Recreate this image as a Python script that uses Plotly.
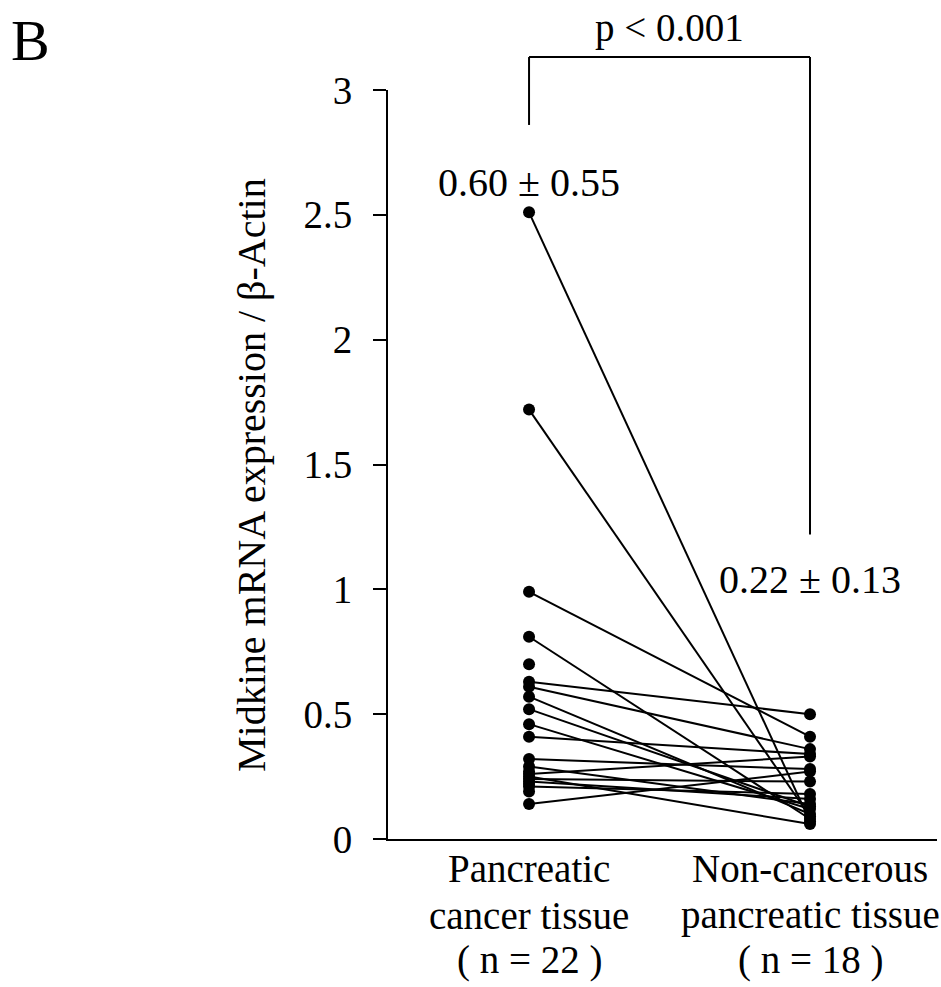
import plotly.graph_objects as go

category_lines = [["Pancreatic", "cancer tissue", "( n = 22 )"],
                  ["Non-cancerous", "pancreatic tissue", "( n = 18 )"]]

# paired samples: cancer tissue value -> non-cancerous value
paired_cancer = [2.51, 1.72, 0.99, 0.81, 0.63, 0.61, 0.57, 0.52, 0.46,
                 0.41, 0.32, 0.29, 0.26, 0.25, 0.24, 0.23, 0.21, 0.14]
paired_normal = [0.07, 0.09, 0.41, 0.08, 0.50, 0.36, 0.10, 0.13, 0.12,
                 0.34, 0.28, 0.14, 0.33, 0.06, 0.23, 0.16, 0.18, 0.27]
# cancer samples without a matched normal sample
unpaired_cancer = [0.70, 0.27, 0.22, 0.19]

mean_labels = ["0.60 ± 0.55", "0.22 ± 0.13"]
mean_label_y = [2.63, 1.04]
p_text = "p < 0.001"
bracket_bottom = [2.86, 1.22]

y_ticks = [0, 0.5, 1, 1.5, 2, 2.5, 3]
y_ticktext = ["0", "0.5", "1", "1.5", "2", "2.5", "3"]

FONT = "Liberation Serif, Times New Roman, serif"
xmin, xmax = -0.502, 1.452
ymin, ymax = 0, 3

fig = go.Figure()
for c, n in zip(paired_cancer, paired_normal):
    fig.add_trace(go.Scatter(
        x=[0, 1], y=[c, n], mode="lines+markers",
        line=dict(color="black", width=2),
        marker=dict(color="black", size=12),
        showlegend=False, cliponaxis=False, hoverinfo="skip"))
fig.add_trace(go.Scatter(
    x=[0] * len(unpaired_cancer), y=unpaired_cancer, mode="markers",
    marker=dict(color="black", size=12),
    showlegend=False, cliponaxis=False, hoverinfo="skip"))

def px(xv):
    return (xv - xmin) / (xmax - xmin)

def py(yv):
    return (yv - ymin) / (ymax - ymin)

top = 1.044
line = dict(color="black", width=2)
fig.add_shape(type="line", xref="paper", yref="paper", x0=px(0), x1=px(0),
              y0=py(bracket_bottom[0]), y1=top, line=line)
fig.add_shape(type="line", xref="paper", yref="paper", x0=px(0), x1=px(1),
              y0=top, y1=top, line=line)
fig.add_shape(type="line", xref="paper", yref="paper", x0=px(1), x1=px(1),
              y0=py(bracket_bottom[1]), y1=top, line=line)

def txt(size):
    return dict(family=FONT, size=size, color="black")

ann = []
for i, (t, yv) in enumerate(zip(mean_labels, mean_label_y)):
    ann.append(dict(x=i, y=yv, xref="x", yref="y", text=t, showarrow=False,
                    xanchor="center", yanchor="middle", font=txt(40)))
ann.append(dict(x=px(0.5), y=1.083, xref="paper", yref="paper", text=p_text,
                showarrow=False, xanchor="center", yanchor="middle",
                font=txt(39)))
ann.append(dict(x=-0.652, y=1.066, xref="paper", yref="paper", text="B",
                showarrow=False, xanchor="center", yanchor="middle",
                font=txt(58)))
ann.append(dict(x=-0.2477, y=0.486, xref="paper", yref="paper",
                text="Midkine mRNA expression / β-Actin", textangle=-90,
                showarrow=False, xanchor="center", yanchor="middle",
                font=txt(40)))
line_y = [-0.0400, -0.1015, -0.1615]
for i, lines in enumerate(category_lines):
    for t, yy in zip(lines, line_y):
        ann.append(dict(x=i, y=yy, xref="x", yref="paper", text=t,
                        showarrow=False, xanchor="center", yanchor="middle",
                        font=txt(39)))

fig.update_layout(
    width=941, height=987,
    margin=dict(l=388, r=4, t=90, b=148),
    paper_bgcolor="white", plot_bgcolor="white",
    annotations=ann,
    xaxis=dict(range=[xmin, xmax], showgrid=False, zeroline=False,
               showticklabels=False, ticks="", showline=True,
               linecolor="black", linewidth=2),
    yaxis=dict(range=[ymin, ymax], tickvals=y_ticks, ticktext=y_ticktext,
               showgrid=False, zeroline=False, showline=True,
               linecolor="black", linewidth=2, ticks="outside", ticklen=13,
               tickwidth=2, tickcolor="black", ticklabelstandoff=13,
               tickfont=txt(39)),
)

fig.write_html("out.html",
               config={"displayModeBar": False},
               post_script="document.body.style.margin='0';"
                           "document.body.style.overflow='hidden';")
